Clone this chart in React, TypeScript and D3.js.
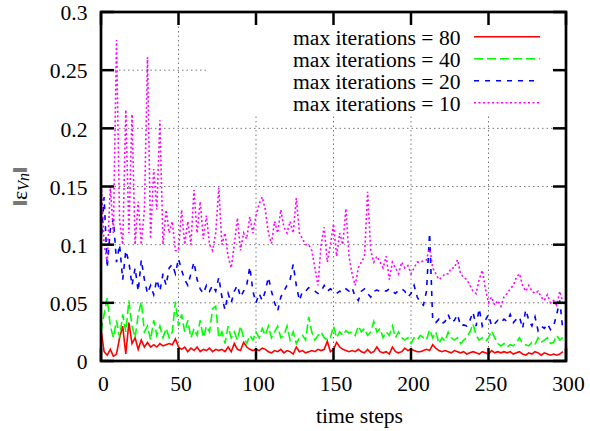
import React from 'react';
import * as d3 from 'd3';

const xTicks = [0, 50, 100, 150, 200, 250, 300];
const xTickLabels = ['0', '50', '100', '150', '200', '250', '300'];
const yTicks = [0, 0.05, 0.1, 0.15, 0.2, 0.25, 0.3];
const yTickLabels = ['0', '0.05', '0.1', '0.15', '0.2', '0.25', '0.3'];
const seriesNames = ['max iterations = 80', 'max iterations = 40', 'max iterations = 20', 'max iterations = 10'];

// values sampled every 2 time steps (0, 2, 4, ..., 298)
const iter80 = [
  0.027, 0.008, 0.005, 0.01, 0.004, 0.006, 0.02, 0.03, 0.006, 0.033,
  0.015, 0.02, 0.01, 0.018, 0.012, 0.016, 0.012, 0.014, 0.012, 0.015,
  0.013, 0.014, 0.015, 0.014, 0.019, 0.012, 0.01, 0.012, 0.008, 0.011,
  0.009, 0.012, 0.008, 0.01, 0.009, 0.011, 0.008, 0.01, 0.009, 0.01,
  0.008, 0.012, 0.008, 0.015, 0.01, 0.009, 0.016, 0.012, 0.01, 0.009,
  0.01, 0.009, 0.011, 0.01, 0.008, 0.007, 0.009, 0.008, 0.01, 0.007,
  0.009, 0.008, 0.006, 0.012, 0.008, 0.009, 0.007, 0.008, 0.009, 0.008,
  0.01, 0.009, 0.01, 0.017, 0.008, 0.01, 0.016, 0.012, 0.01, 0.009,
  0.008, 0.009, 0.008, 0.01, 0.008, 0.007, 0.01, 0.007, 0.008, 0.012,
  0.008, 0.007, 0.008, 0.006, 0.012, 0.008, 0.007, 0.008, 0.011, 0.009,
  0.01, 0.009, 0.008, 0.008, 0.009, 0.01, 0.009, 0.014, 0.011, 0.009,
  0.008, 0.009, 0.008, 0.007, 0.009, 0.008, 0.007, 0.008, 0.006, 0.007,
  0.008, 0.007, 0.006, 0.008, 0.007, 0.006, 0.009, 0.007, 0.008, 0.007,
  0.008, 0.007, 0.008, 0.006, 0.007, 0.008, 0.006, 0.005, 0.007, 0.006,
  0.008, 0.007, 0.005, 0.007, 0.006, 0.005, 0.006, 0.005, 0.006, 0.008,
];
const iter40 = [
  0.025, 0.04, 0.054, 0.03, 0.02, 0.035, 0.02, 0.04, 0.025, 0.052,
  0.03, 0.02, 0.04, 0.051, 0.025, 0.03, 0.018, 0.035, 0.022, 0.03,
  0.02, 0.028, 0.02, 0.025, 0.051, 0.03, 0.04, 0.025, 0.035, 0.02,
  0.028, 0.022, 0.035, 0.02, 0.03, 0.025, 0.045, 0.047, 0.02, 0.025,
  0.015, 0.03, 0.02, 0.025, 0.018, 0.03, 0.02, 0.015, 0.022, 0.018,
  0.025, 0.02, 0.028, 0.022, 0.03, 0.02, 0.025, 0.03, 0.02, 0.022,
  0.03, 0.018, 0.025, 0.015, 0.02, 0.022, 0.018, 0.038, 0.025, 0.018,
  0.022, 0.025, 0.02, 0.018, 0.02, 0.03, 0.02, 0.025, 0.022, 0.026,
  0.024, 0.025, 0.022, 0.03, 0.025, 0.028, 0.022, 0.025, 0.034, 0.025,
  0.028, 0.02, 0.025, 0.022, 0.03, 0.02, 0.025, 0.02, 0.018, 0.02,
  0.015, 0.02, 0.018, 0.022, 0.02, 0.018, 0.027, 0.02, 0.025, 0.015,
  0.02, 0.017, 0.025, 0.02, 0.018, 0.02, 0.015, 0.018, 0.02, 0.025,
  0.032, 0.022, 0.018, 0.02, 0.017, 0.02, 0.026, 0.02, 0.015, 0.013,
  0.015, 0.012, 0.014, 0.013, 0.016, 0.02, 0.015, 0.014, 0.013, 0.016,
  0.014, 0.02, 0.016, 0.018, 0.02, 0.015, 0.016, 0.022, 0.018, 0.02,
];
const iter20 = [
  0.1, 0.141, 0.08, 0.113, 0.122, 0.085, 0.1, 0.07, 0.095, 0.085,
  0.065, 0.08, 0.06, 0.087, 0.07, 0.058, 0.065, 0.057, 0.07, 0.06,
  0.075, 0.065, 0.08, 0.083, 0.075, 0.088, 0.078, 0.07, 0.065, 0.075,
  0.085, 0.07, 0.062, 0.058, 0.065, 0.06, 0.065, 0.06, 0.072, 0.055,
  0.044, 0.058, 0.05, 0.06, 0.065, 0.055, 0.06, 0.065, 0.081, 0.06,
  0.05, 0.058, 0.052, 0.06, 0.072, 0.06, 0.05, 0.043, 0.055, 0.06,
  0.065, 0.07, 0.083, 0.065, 0.052, 0.06, 0.06, 0.063, 0.062, 0.06,
  0.058, 0.06, 0.065, 0.06, 0.062, 0.06, 0.058, 0.06, 0.059, 0.062,
  0.06, 0.063, 0.055, 0.052, 0.06, 0.062, 0.058, 0.055, 0.06, 0.061,
  0.06, 0.061, 0.06, 0.062, 0.06, 0.058, 0.061, 0.062, 0.06, 0.055,
  0.058, 0.065, 0.055, 0.05, 0.048, 0.06, 0.11, 0.035, 0.033, 0.036,
  0.032, 0.034, 0.04, 0.033, 0.035, 0.04, 0.03, 0.031, 0.03, 0.035,
  0.042, 0.03, 0.045, 0.03, 0.035, 0.04, 0.03, 0.032, 0.035, 0.033,
  0.036, 0.034, 0.04, 0.033, 0.036, 0.038, 0.028, 0.044, 0.035, 0.03,
  0.038, 0.026, 0.03, 0.028, 0.032, 0.027, 0.03, 0.04, 0.052, 0.026,
];
const iter10 = [
  0.155, 0.1, 0.085, 0.15, 0.11, 0.276, 0.12, 0.1, 0.216, 0.11,
  0.212, 0.1, 0.137, 0.1, 0.13, 0.261, 0.105, 0.165, 0.13, 0.207,
  0.1, 0.13, 0.11, 0.12, 0.095, 0.095, 0.13, 0.1, 0.12, 0.1,
  0.147, 0.11, 0.137, 0.105, 0.125, 0.1, 0.095, 0.11, 0.149, 0.1,
  0.11, 0.09, 0.08, 0.1, 0.123, 0.095, 0.11, 0.105, 0.124, 0.11,
  0.125, 0.135, 0.141, 0.13, 0.11, 0.101, 0.12, 0.11, 0.13, 0.115,
  0.11, 0.12, 0.11, 0.14, 0.11, 0.105, 0.1, 0.1, 0.095, 0.08,
  0.065, 0.1, 0.115, 0.085, 0.1, 0.118, 0.09, 0.11, 0.1, 0.131,
  0.09, 0.075, 0.065, 0.08, 0.085, 0.09, 0.1455, 0.095, 0.085, 0.09,
  0.085, 0.08, 0.09, 0.07, 0.085, 0.08, 0.075, 0.085, 0.08, 0.082,
  0.075, 0.08, 0.085, 0.085, 0.086, 0.087, 0.098, 0.08, 0.075, 0.07,
  0.072, 0.075, 0.075, 0.08, 0.08, 0.087, 0.075, 0.072, 0.07, 0.065,
  0.06, 0.058, 0.07, 0.078, 0.062, 0.05, 0.055, 0.048, 0.052, 0.047,
  0.055, 0.058, 0.062, 0.065, 0.072, 0.075, 0.065, 0.06, 0.065, 0.06,
  0.058, 0.06, 0.055, 0.052, 0.057, 0.05, 0.052, 0.048, 0.06, 0.05,
];

const seriesValues = [iter80, iter40, iter20, iter10];
const seriesColors = ['#ff0000', '#00ff00', '#0000ff', '#ff00ff'];
const seriesDash = ['none', '9,4', '5,6', '2,2.5'];

const W = 590;
const H = 431;
const L = 101, R = 566, T = 12, B = 361;
const FONT = "'Liberation Serif', 'Times New Roman', Times, 'DejaVu Serif', serif";
const FS = 21.6;
const textStyle = { fontFamily: FONT, fontSize: FS };

export default function App() {
  const x = d3.scaleLinear().domain([0, 300]).range([L, R]);
  const y = d3.scaleLinear().domain([0, 0.3]).range([B, T]);
  const line = d3.line<number>().x((_, i) => x(i * 2)).y((d) => y(d));

  const tick = 13;
  const legendLeft = 208;
  const legendBottom = 116;
  const gridStyle = { stroke: '#777', strokeWidth: 1, strokeDasharray: '1.5,3' };

  return (
    <svg width={W} height={H} style={{ position: 'absolute', left: 0, top: 0, background: '#fff', fontFamily: FONT }}>
      <rect x={0} y={0} width={W} height={H} fill="#fff" />
      {yTicks.slice(1, -1).map((t) => {
        const yy = y(t);
        const x2 = yy < legendBottom ? legendLeft : R;
        return <line key={'gy' + t} x1={L} x2={x2} y1={yy} y2={yy} style={gridStyle} />;
      })}
      {xTicks.slice(1, -1).map((t) => {
        const xx = x(t);
        const y2 = xx > legendLeft ? legendBottom : T;
        return <line key={'gx' + t} x1={xx} x2={xx} y1={B} y2={y2} style={gridStyle} />;
      })}
      {seriesValues.map((vals, k) => (
        <path
          key={'s' + k}
          d={line(vals) || ''}
          fill="none"
          stroke={seriesColors[k]}
          strokeWidth={1.6}
          strokeDasharray={seriesDash[k]}
        />
      ))}
      {yTicks.map((t) => (
        <g key={'ty' + t}>
          <line x1={L} x2={L + tick} y1={y(t)} y2={y(t)} stroke="#000" strokeWidth={2.5} />
          <line x1={R} x2={R - tick} y1={y(t)} y2={y(t)} stroke="#000" strokeWidth={2.5} />
        </g>
      ))}
      {xTicks.map((t) => (
        <g key={'tx' + t}>
          <line x1={x(t)} x2={x(t)} y1={B} y2={B - tick} stroke="#000" strokeWidth={2.5} />
          <line x1={x(t)} x2={x(t)} y1={T} y2={T + tick} stroke="#000" strokeWidth={2.5} />
        </g>
      ))}
      <rect x={L} y={T} width={R - L} height={B - T} fill="none" stroke="#000" strokeWidth={2.7} />
      {yTicks.map((t, i) => (
        <text key={'ly' + t} x={87.5} y={y(t) + 8.2} textAnchor="end" style={textStyle}>
          {yTickLabels[i]}
        </text>
      ))}
      {xTicks.map((t, i) => (
        <text key={'lx' + t} x={x(t) + 2.5} y={391} textAnchor="middle" style={textStyle}>
          {xTickLabels[i]}
        </text>
      ))}
      <text x={359.5} y={423} textAnchor="middle" style={textStyle}>
        time steps
      </text>
      <text transform="translate(27,186.5) rotate(-90)" textAnchor="middle" style={textStyle}>
        ‖ε
        <tspan fontStyle="italic" style={{ fontSize: 16 }} dy={2}>Vn</tspan>
        <tspan dy={-2}>‖</tspan>
      </text>
      {seriesNames.map((name, k) => {
        const ly = 36.7 + k * 22;
        return (
          <g key={'lg' + k}>
            <text x={460.5} y={ly + 8} textAnchor="end" style={textStyle}>
              {name}
            </text>
            <line x1={474} x2={540} y1={ly} y2={ly} stroke={seriesColors[k]} strokeWidth={1.6} strokeDasharray={seriesDash[k]} />
          </g>
        );
      })}
    </svg>
  );
}
